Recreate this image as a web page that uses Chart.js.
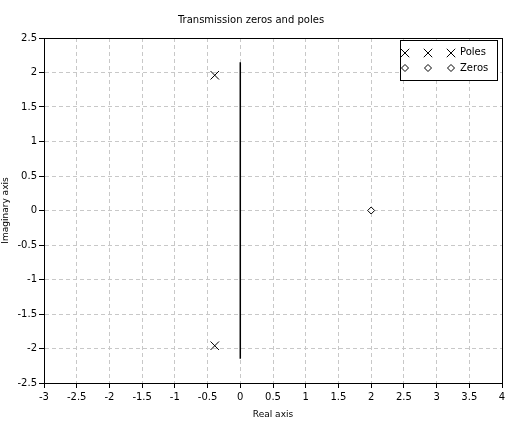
<!DOCTYPE html>
<html>
<head>
<meta charset="utf-8">
<script src="https://cdn.jsdelivr.net/npm/chart.js@4"></script>
<style>
  html, body { margin: 0; padding: 0; background: #fff; }
  #wrap { width: 515px; height: 424px; }
</style>
</head>
<body>
<div id="wrap"><canvas id="pzChart" width="515" height="424"></canvas></div>
<script>
const poleX = [-0.39, -0.39];
const poleY = [1.96, -1.96];
const zeroX = [2];
const zeroY = [0];
const stemX = [0, 0];
const stemY = [-2.15, 2.15];
const xTicks = [-3, -2.5, -2, -1.5, -1, -0.5, 0, 0.5, 1, 1.5, 2, 2.5, 3, 3.5, 4];
const yTicks = [-2.5, -2, -1.5, -1, -0.5, 0, 0.5, 1, 1.5, 2, 2.5];

function pts(xs, ys) {
    return xs.map(function (x, i) { return { x: x, y: ys[i] }; });
}

const FONT = "DejaVu Sans";

// frame around the plot and a boxed legend with three markers per entry
const framePlugin = {
    id: "frame",
    afterDraw: function (chart) {
        const c = chart.ctx;
        const a = chart.chartArea;
        c.save();
        c.strokeStyle = "#000";
        c.lineWidth = 1;
        c.setLineDash([]);
        c.strokeRect(Math.round(a.left) + 0.5, Math.round(a.top) + 0.5,
            Math.round(a.right - a.left), Math.round(a.bottom - a.top));

        // legend
        const lx = 400.5, ly = 40.5, lw = 97, lh = 40;
        c.fillStyle = "#fff";
        c.fillRect(lx, ly, lw, lh);
        c.strokeRect(lx, ly, lw, lh);
        const entries = [
            { ds: chart.data.datasets[1], y: 53 },
            { ds: chart.data.datasets[2], y: 68 }
        ];
        const mx = [405, 428, 451];
        entries.forEach(function (e) {
            mx.forEach(function (x) {
                c.strokeStyle = "#000";
                c.fillStyle = "#fff";
                c.lineWidth = 1;
                Chart.helpers.drawPoint(c, {
                    pointStyle: e.ds.pointStyle,
                    radius: e.ds.pointRadius,
                    borderWidth: e.ds.borderWidth,
                    rotation: 0
                }, x, e.y);
            });
        });
        c.fillStyle = "#000";
        c.font = "10px " + FONT;
        c.textBaseline = "middle";
        c.textAlign = "left";
        c.fillText("Poles", 460, 52);
        c.fillText("Zeros", 460, 68);
        c.restore();
    }
};

const gridOpts = {
    color: "#c8c8c8",
    tickColor: "#000",
    tickBorderDash: [],
    tickLength: 5
};

const ctx = document.getElementById("pzChart").getContext("2d");
const chart = new Chart(ctx, {
    type: "scatter",
    data: {
        datasets: [
            {
                label: "stem",
                data: pts(stemX, stemY),
                showLine: true,
                borderColor: "#000",
                borderWidth: 1.5,
                pointRadius: 0
            },
            {
                label: "Poles",
                data: pts(poleX, poleY),
                pointStyle: "crossRot",
                pointRadius: 6,
                borderColor: "#000",
                backgroundColor: "#000",
                borderWidth: 1
            },
            {
                label: "Zeros",
                data: pts(zeroX, zeroY),
                pointStyle: "rectRot",
                pointRadius: 3.5,
                borderColor: "#000",
                backgroundColor: "#fff",
                borderWidth: 1
            }
        ]
    },
    options: {
        responsive: false,
        animation: false,
        layout: { padding: { top: 0, right: 13, left: 0, bottom: 0 } },
        plugins: {
            legend: { display: false },
            tooltip: { enabled: false },
            title: {
                display: true,
                text: "Transmission zeros and poles",
                color: "#000",
                font: { family: FONT, size: 10, weight: "normal" },
                padding: { top: 14, bottom: 12 }
            }
        },
        scales: {
            x: {
                type: "linear",
                min: -3,
                max: 4,
                afterFit: function (s) { s.height = 41; },
                afterBuildTicks: function (s) { s.ticks = xTicks.map(function (v) { return { value: v }; }); },
                ticks: {
                    color: "#000",
                    padding: 3,
                    maxRotation: 0,
                    autoSkip: false,
                    font: { family: FONT, size: 10 },
                    callback: function (v) { return String(v); }
                },
                grid: gridOpts,
                border: { color: "#000", width: 1, dash: [4, 3] },
                title: {
                    display: true,
                    text: "Real axis",
                    color: "#000",
                    font: { family: FONT, size: 9 },
                    padding: { top: 0, bottom: 4 }
                }
            },
            y: {
                type: "linear",
                min: -2.5,
                max: 2.5,
                afterFit: function (s) { s.width = 44; },
                afterBuildTicks: function (s) { s.ticks = yTicks.map(function (v) { return { value: v }; }); },
                ticks: {
                    color: "#000",
                    padding: 2,
                    autoSkip: false,
                    font: { family: FONT, size: 10 },
                    callback: function (v) { return String(v); }
                },
                grid: gridOpts,
                border: { color: "#000", width: 1, dash: [4, 3] },
                title: {
                    display: true,
                    text: "Imaginary axis",
                    color: "#000",
                    font: { family: FONT, size: 9 },
                    padding: { top: 0, bottom: 0 }
                }
            }
        }
    },
    plugins: [framePlugin]
});
</script>
</body>
</html>
